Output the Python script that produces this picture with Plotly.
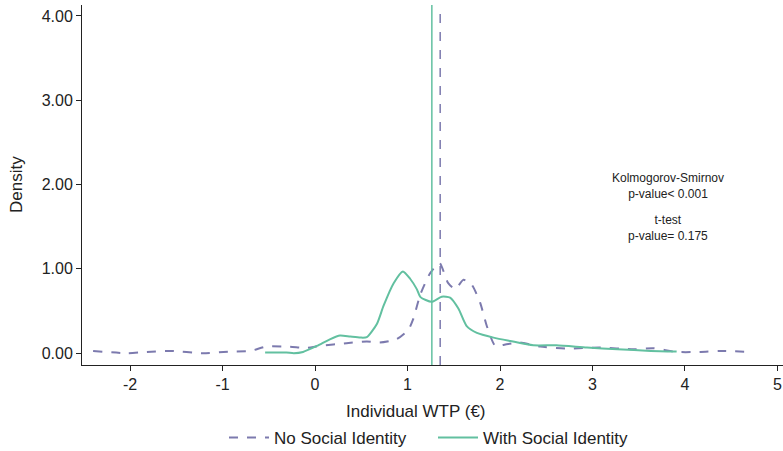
import plotly.graph_objects as go

# No Social Identity (dashed)
x_no = [-2.40, -2.04, -1.82, -1.57, -1.21, -0.92, -0.70, -0.52, -0.27, -0.09, 0.05, 0.34, 0.56, 0.70,
        0.88, 1.01, 1.06, 1.14, 1.245, 1.345, 1.44, 1.515, 1.605, 1.695, 1.785, 1.858, 1.95, 2.07, 2.22,
        2.435, 2.72, 3.08, 3.445, 3.66, 3.91, 4.17, 4.38, 4.71]
y_no = [0.027, 0.0, 0.015, 0.027, 0.0, 0.02, 0.027, 0.08, 0.075, 0.063, 0.086, 0.118, 0.14, 0.126,
        0.165, 0.28, 0.40, 0.70, 0.95, 1.07, 0.83, 0.76, 0.87, 0.81, 0.60, 0.32, 0.086, 0.106, 0.126,
        0.079, 0.055, 0.067, 0.047, 0.059, 0.015, 0.015, 0.027, 0.015]

# With Social Identity (solid)
x_with = [-0.54, -0.31, -0.23, -0.13, 0.02, 0.16, 0.27, 0.38, 0.49, 0.56, 0.67, 0.74, 0.85, 0.95,
          1.03, 1.10, 1.14, 1.26, 1.37, 1.46, 1.55, 1.64, 1.75, 1.93, 2.11, 2.36, 2.61, 2.94, 3.27,
          3.63, 3.91]
y_with = [0.008, 0.008, 0.0, 0.015, 0.086, 0.165, 0.21, 0.197, 0.185, 0.19, 0.35, 0.56, 0.83, 0.97,
          0.88, 0.76, 0.665, 0.61, 0.67, 0.66, 0.53, 0.32, 0.24, 0.185, 0.145, 0.094, 0.094, 0.067, 0.047,
          0.027, 0.02]

mean_no = 1.353
mean_with = 1.263

x_ticks = [-2, -1, 0, 1, 2, 3, 4, 5]
x_tick_labels = ["-2", "-1", "0", "1", "2", "3", "4", "5"]
y_ticks = [0, 1, 2, 3, 4]
y_tick_labels = ["0.00", "1.00", "2.00", "3.00", "4.00"]

stat_blocks = ["Kolmogorov-Smirnov<br>p-value< 0.001", "t-test<br>p-value= 0.175"]

c_no = "#7c7aae"
c_with = "#62c0a0"
TXT = "#222222"
FONT = "Liberation Sans, Arial, sans-serif"

L, R, T, B = 82, 0, 5, 86
W, H = 783, 451
PW, PH = W - L - R, H - T - B

def px_x(px):
    return (px - L) / PW

def px_y(py):
    return (H - B - py) / PH

fig = go.Figure()
fig.add_trace(go.Scatter(x=x_no, y=y_no, mode="lines", name="No Social Identity",
                         line=dict(color=c_no, width=2, dash="dash", shape="spline", smoothing=0.6)))
fig.add_trace(go.Scatter(x=x_with, y=y_with, mode="lines", name="With Social Identity",
                         line=dict(color=c_with, width=2, shape="spline", smoothing=0.6)))

fig.add_shape(type="line", x0=mean_with, x1=mean_with, y0=0, y1=1, yref="paper", xref="x",
              line=dict(color=c_with, width=1.5))
fig.add_shape(type="line", x0=mean_no, x1=mean_no, y0=0, y1=1, yref="paper", xref="x",
              line=dict(color=c_no, width=1.5, dash="dash"))

for txt, py in zip(stat_blocks, [186, 228]):
    fig.add_annotation(x=px_x(668), y=px_y(py), xref="paper", yref="paper",
                       text=txt, showarrow=False, align="center",
                       font=dict(family=FONT, size=12, color=TXT), xanchor="center", yanchor="middle")

fig.add_annotation(x=px_x(416), y=px_y(411), xref="paper", yref="paper",
                   text="Individual WTP (€)", showarrow=False,
                   font=dict(family=FONT, size=17, color=TXT), xanchor="center", yanchor="middle")

fig.add_annotation(x=px_x(16), y=px_y(185), xref="paper", yref="paper",
                   text="Density", showarrow=False, textangle=-90,
                   font=dict(family=FONT, size=17, color=TXT), xanchor="center", yanchor="middle")

fig.update_layout(
    width=W, height=H,
    margin=dict(l=L, r=R, t=T, b=B, autoexpand=False),
    plot_bgcolor="white", paper_bgcolor="white",
    font=dict(family=FONT, size=16, color=TXT),
    showlegend=True,
    legend=dict(orientation="h", x=px_x(224), xanchor="left", yref="container", y=(H - 438) / H,
                yanchor="middle", font=dict(family=FONT, size=17, color=TXT),
                entrywidth=154, itemwidth=40),
    xaxis=dict(range=[-2.52, 5.06], tickvals=x_ticks, ticktext=x_tick_labels, showline=True,
               linecolor=TXT, linewidth=1, ticks="outside", ticklen=5, tickcolor=TXT,
               showgrid=False, zeroline=False, tickfont=dict(size=16)),
    yaxis=dict(range=[-0.14, 4.13], tickvals=y_ticks, ticktext=y_tick_labels, showline=True,
               linecolor=TXT, linewidth=1, ticks="outside", ticklen=5, tickcolor=TXT,
               showgrid=False, zeroline=False, tickfont=dict(size=16)),
)

fig.write_html("out.html")
